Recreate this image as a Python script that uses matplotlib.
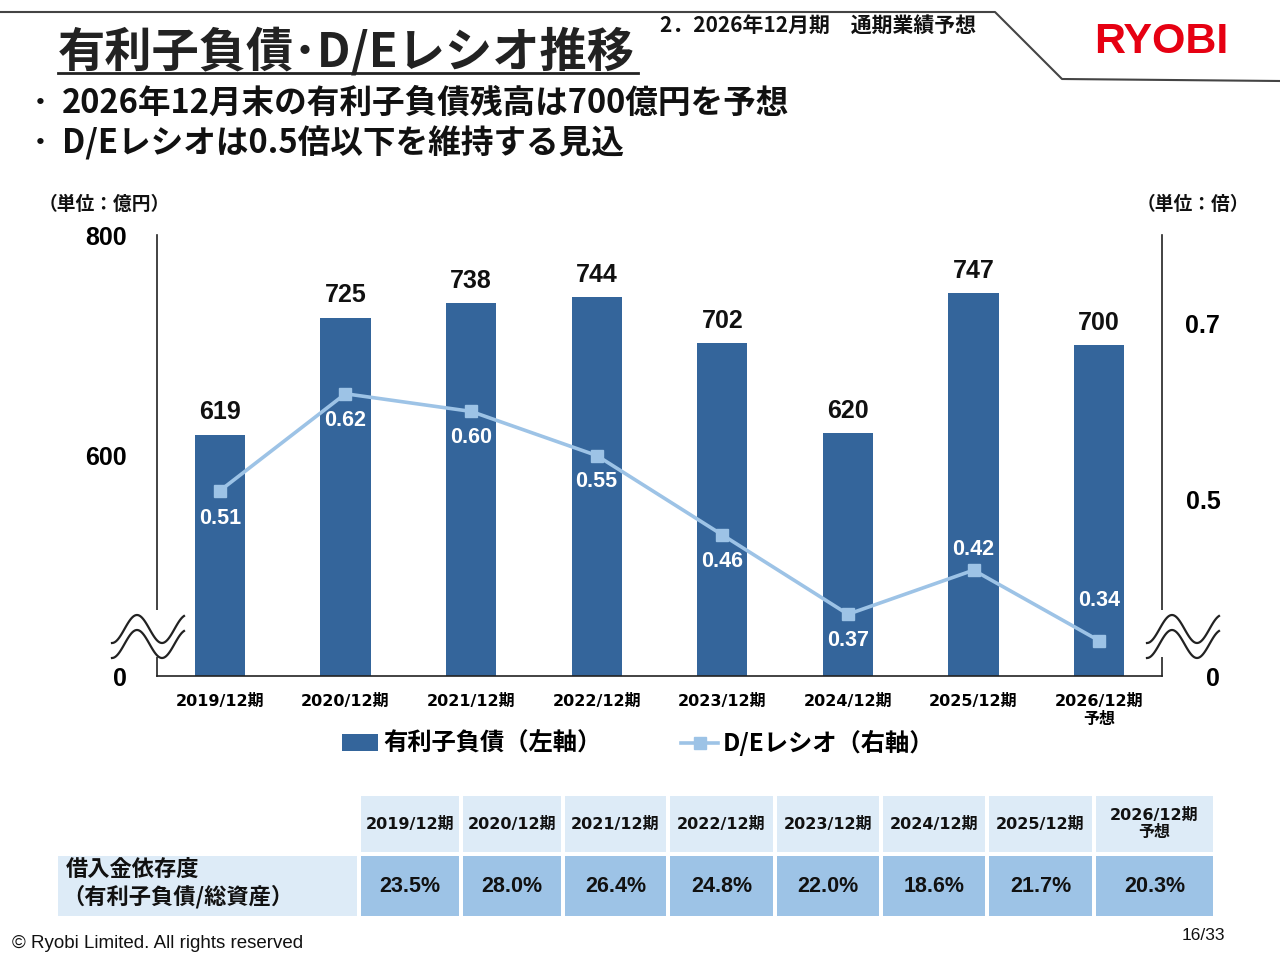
import numpy as np
import matplotlib
matplotlib.use('Agg')
from matplotlib import pyplot as plt
from matplotlib.patches import Rectangle
from matplotlib.lines import Line2D

plt.rcParams['font.family'] = ['Noto Sans CJK JP', 'DejaVu Sans']

# データ
periods = ['2019/12期', '2020/12期', '2021/12期', '2022/12期',
           '2023/12期', '2024/12期', '2025/12期', '2026/12期\n予想']
debt = [619, 725, 738, 744, 702, 620, 747, 700]
de_ratio = [0.51, 0.62, 0.60, 0.55, 0.46, 0.37, 0.42, 0.34]
dependency = [23.5, 28.0, 26.4, 24.8, 22.0, 18.6, 21.7, 20.3]

BAR = '#34659b'
LINE = '#9dc3e6'
LIGHT = '#ddebf7'
TXT = '#111111'
NUM = ['Liberation Sans', 'DejaVu Sans']
LAT = ['DejaVu Sans', 'Noto Sans CJK JP']

W, H = 1280, 960


def fx(x):
    return x / W


def fy(y):
    return 1 - y / H


fig = plt.figure(figsize=(12.8, 9.6), dpi=100)

# ヘッダー
fig.add_artist(Line2D([fx(0), fx(995), fx(1062), fx(1280)],
                      [fy(12), fy(12), fy(79), fy(81)],
                      color='#444444', lw=1.5, transform=fig.transFigure))
fig.text(fx(58), fy(52), '有利子負債･D/Eレシオ推移', fontsize=34, fontweight='bold',
         color='#222222', va='center', ha='left')
fig.add_artist(Line2D([fx(58), fx(638)], [fy(73), fy(73)], color='#222222', lw=2,
                      transform=fig.transFigure))
fig.text(fx(660), fy(25), '2．2026年12月期　通期業績予想', fontsize=15, fontweight='bold',
         color=TXT, va='center', ha='left')
fig.text(fx(1161), fy(42), 'RYOBI', fontsize=31, fontweight='bold', color='#e60012',
         family=NUM, va='center', ha='center')

for y, s in [(103, '2026年12月末の有利子負債残高は700億円を予想'),
             (143, 'D/Eレシオは0.5倍以下を維持する見込')]:
    fig.text(fx(28), fy(y), '・', fontsize=18, fontweight='bold', color=TXT,
             va='center', ha='left')
    fig.text(fx(62), fy(y), s, fontsize=23.5, fontweight='bold', color=TXT,
             va='center', ha='left')

# グラフ
ax = fig.add_axes([fx(157), fy(676), (1162 - 157) / W, (676 - 235) / H])
x = np.arange(len(periods))
bars = ax.bar(x, debt, width=0.4, color=BAR, zorder=2, label='有利子負債（左軸）')
ax.set_xlim(-0.5, len(periods) - 0.5)
ax.set_ylim(400, 800)
ax.set_yticks([400, 600, 800])
ax.set_yticklabels(['0', '600', '800'], family=NUM, fontsize=18, fontweight='bold')
ax.set_xticks(x)
ax.set_xticklabels(periods, family=LAT, fontsize=11.5, fontweight='bold')
ax.tick_params(axis='y', length=0, pad=22)
ax.tick_params(axis='x', length=0, pad=13)
for s in ['top', 'right']:
    ax.spines[s].set_visible(False)
for s in ['left', 'bottom']:
    ax.spines[s].set_color('#222222')
    ax.spines[s].set_linewidth(1.2)

for xi, v in zip(x, debt):
    ax.annotate(f'{v}', (xi, v), xytext=(0, 16), textcoords='offset points',
                ha='center', va='center', fontsize=18, fontweight='bold',
                family=NUM, color=TXT)

ax2 = ax.twinx()
ax2.set_position(ax.get_position())
line, = ax2.plot(x, de_ratio, color=LINE, lw=2.6, marker='s', markersize=8.5,
                 zorder=3, label='D/Eレシオ（右軸）')
ax2.set_ylim(0.3, 0.8)
ax2.set_yticks([0.3, 0.5, 0.7])
ax2.set_yticklabels(['0', '0.5', '0.7'], family=NUM, fontsize=18, fontweight='bold',
                    ha='right')
ax2.tick_params(axis='y', length=0, pad=42)
for s in ['top', 'left', 'bottom']:
    ax2.spines[s].set_visible(False)
ax2.spines['right'].set_color('#222222')
ax2.spines['right'].set_linewidth(1.2)

# ラベル位置（点からのずれ, pt）
label_dy = [-20, -19, -19, -19, -19, -19, 15, 29]
for xi, v, dy in zip(x, de_ratio, label_dy):
    ax2.annotate(f'{v:.2f}', (xi, v), xytext=(0, dy), textcoords='offset points',
                 ha='center', va='center', fontsize=15.5, fontweight='bold',
                 family=NUM, color='white')

fig.text(fx(104), fy(204), '（単位：億円）', fontsize=13.5, fontweight='bold',
         color=TXT, ha='center', va='center')
fig.text(fx(1193), fy(204), '（単位：倍）', fontsize=13.5, fontweight='bold',
         color=TXT, ha='center', va='center')

# 省略記号
for spine_x, peak_x in [(157, 137), (1163, 1172)]:
    fig.add_artist(Rectangle((fx(spine_x - 6), fy(657)), 12 / W, 47 / H,
                             facecolor='white', edgecolor='none', zorder=5,
                             transform=fig.transFigure))
    xs = np.linspace(peak_x - 25, peak_x + 47, 80)
    for off in [0, 15]:
        ys = 629 + off - 14 * np.cos(2 * np.pi * (xs - peak_x) / 50)
        fig.add_artist(Line2D(fx(xs), fy(ys), color='#222222', lw=1.6, zorder=6,
                              transform=fig.transFigure))

# 凡例
fig.legend([bars, line], ['有利子負債（左軸）', 'D/Eレシオ（右軸）'],
           loc='center', bbox_to_anchor=(fx(638), fy(743)), ncol=2, frameon=False,
           prop={'family': 'Noto Sans CJK JP', 'weight': 'bold', 'size': 17.5},
           handlelength=1.5, handleheight=0.7, handletextpad=0.2, columnspacing=3.3,
           borderpad=0)

# 表
cols = [(361, 459), (463, 561), (565, 666), (670, 773), (777, 879),
        (883, 985), (989, 1092), (1096, 1213)]
for (x0, x1), p, d in zip(cols, periods, dependency):
    fig.add_artist(Rectangle((fx(x0), fy(852)), (x1 - x0) / W, 56 / H,
                             facecolor=LIGHT, edgecolor='none',
                             transform=fig.transFigure))
    fig.add_artist(Rectangle((fx(x0), fy(916)), (x1 - x0) / W, 60 / H,
                             facecolor=LINE, edgecolor='none',
                             transform=fig.transFigure))
    fig.text(fx((x0 + x1) / 2), fy(824), p, family=LAT, fontsize=11.5,
             fontweight='bold', color=TXT, ha='center', va='center', linespacing=1.15)
    fig.text(fx((x0 + x1) / 2), fy(887), f'{d:.1f}%', family=NUM, fontsize=15.5,
             fontweight='bold', color=TXT, ha='center', va='center')

fig.add_artist(Rectangle((fx(58), fy(916)), 299 / W, 60 / H, facecolor=LIGHT,
                         edgecolor='none', transform=fig.transFigure))
fig.text(fx(66), fy(869), '借入金依存度', fontsize=16, fontweight='bold', color=TXT,
         ha='left', va='center')
fig.text(fx(62), fy(897), '（有利子負債/総資産）', fontsize=16, fontweight='bold',
         color=TXT, ha='left', va='center')

# フッター
fig.text(fx(12), fy(943), '© Ryobi Limited. All rights reserved', family=NUM,
         fontsize=13.5, color=TXT, ha='left', va='center')
fig.text(fx(1225), fy(936), '16/33', family=NUM, fontsize=12.5, color=TXT,
         ha='right', va='center')

fig.savefig('out.png', dpi=100, facecolor='white')
